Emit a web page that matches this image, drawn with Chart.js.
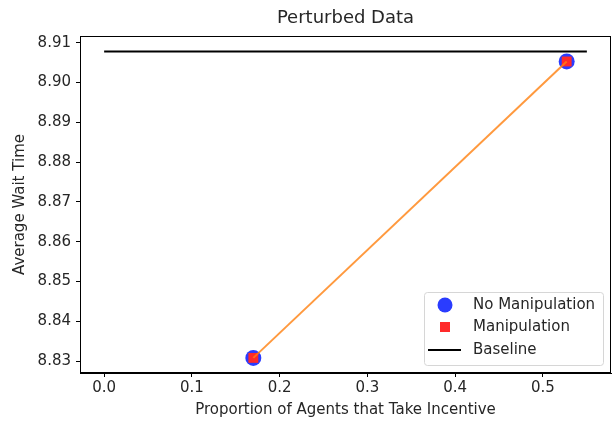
<!DOCTYPE html>
<html>
<head>
<meta charset="utf-8">
<script src="https://cdn.jsdelivr.net/npm/chart.js@4"></script>
<style>
  html, body { margin: 0; padding: 0; background: #fff; }
  #wrap { width: 613px; height: 424px; }
</style>
</head>
<body>
<div id="wrap"><canvas id="chart" width="613" height="424"></canvas></div>
<script>
// ─── DATA ────────────────────────────────────────────
const proportions = [0.17, 0.527];
const waitNoManip = [8.8308, 8.9053];
const waitManip = [8.8308, 8.9053];
const baselineX = [0, 0.55];
const baselineWait = 8.9078;
const xTicks = [0, 0.1, 0.2, 0.3, 0.4, 0.5];
const yTicks = [8.83, 8.84, 8.85, 8.86, 8.87, 8.88, 8.89, 8.90, 8.91];

const FONT = 'DejaVu Sans, sans-serif';
const TXT = '#262626';

const pts = (xs, ys) => xs.map((x, i) => ({ x, y: ys[i] }));

// frame, title over the plot, legend inside lower right
const framePlugin = {
  id: 'frame',
  afterDatasetsDraw(chart) {
    const { ctx, chartArea: a } = chart;
    ctx.save();
    ctx.strokeStyle = '#000';
    ctx.lineWidth = 1;
    ctx.strokeRect(Math.round(a.left) + 0.5, Math.round(a.top) + 0.5,
      Math.round(a.right - a.left) - 1, Math.round(a.bottom - a.top) - 1);

    ctx.fillStyle = TXT;
    ctx.font = '18px ' + FONT;
    ctx.textAlign = 'center';
    ctx.textBaseline = 'middle';
    ctx.fillText('Perturbed Data', (a.left + a.right) / 2, 18);

    // legend
    const bw = 179, bh = 73;
    const bx = a.right - 8 - bw, by = a.bottom - 8 - bh;
    ctx.fillStyle = 'rgba(255,255,255,0.8)';
    ctx.strokeStyle = '#d6d6d6';
    ctx.beginPath();
    ctx.roundRect(bx + 0.5, by + 0.5, bw, bh, 3);
    ctx.fill();
    ctx.stroke();

    const hx = bx + 21, tx = bx + 49;
    const rows = [by + 13, by + 35, by + 58];
    ctx.fillStyle = '#2a3cff';
    ctx.beginPath(); ctx.arc(hx, rows[0], 7.5, 0, Math.PI * 2); ctx.fill();
    ctx.fillStyle = '#ff2a2a';
    ctx.fillRect(hx - 5, rows[1] - 5, 10, 10);
    ctx.strokeStyle = '#000';
    ctx.lineWidth = 2;
    ctx.beginPath(); ctx.moveTo(hx - 17, rows[2]); ctx.lineTo(hx + 16, rows[2]); ctx.stroke();

    ctx.fillStyle = TXT;
    ctx.font = '15px ' + FONT;
    ctx.textAlign = 'left';
    ['No Manipulation', 'Manipulation', 'Baseline'].forEach((t, i) => ctx.fillText(t, tx, rows[i]));
    ctx.restore();
  }
};

new Chart(document.getElementById('chart'), {
  type: 'scatter',
  data: {
    datasets: [
      {
        label: 'trend',
        data: pts(proportions, waitManip),
        showLine: true,
        borderColor: 'rgba(255,127,14,0.8)',
        borderWidth: 2,
        pointRadius: 0,
        order: 0,
      },
      {
        label: 'Manipulation',
        data: pts(proportions, waitManip),
        pointStyle: 'rect',
        pointRadius: 7,
        backgroundColor: '#ff2a2a',
        borderWidth: 0,
        order: 1,
      },
      {
        label: 'No Manipulation',
        data: pts(proportions, waitNoManip),
        pointStyle: 'circle',
        pointRadius: 8,
        backgroundColor: '#2a3cff',
        borderWidth: 0,
        order: 2,
      },
      {
        label: 'Baseline',
        data: pts(baselineX, baselineX.map(() => baselineWait)),
        showLine: true,
        borderColor: '#000',
        borderWidth: 2,
        pointRadius: 0,
        order: 3,
      },
    ]
  },
  options: {
    responsive: false,
    animation: false,
    layout: { autoPadding: false, padding: { left: 0, right: 2, top: 36, bottom: 0 } },
    plugins: {
      legend: { display: false },
      tooltip: { enabled: false },
      title: { display: false },
    },
    scales: {
      x: {
        type: 'linear',
        min: -0.0275,
        max: 0.5775,
        afterFit: s => { s.height = 51; },
        afterBuildTicks: s => { s.ticks = xTicks.map(v => ({ value: v })); },
        ticks: {
          color: TXT,
          font: { family: FONT, size: 15 },
          padding: 2,
          callback: v => v.toFixed(1),
        },
        grid: { drawOnChartArea: false, drawTicks: true, tickLength: 4, color: '#000' },
        border: { display: true, color: '#000', width: 1 },
        title: {
          display: true,
          text: 'Proportion of Agents that Take Incentive',
          color: TXT,
          font: { family: FONT, size: 15 },
          padding: { top: 4, bottom: 5 },
        },
      },
      y: {
        type: 'linear',
        min: 8.827,
        max: 8.9117,
        afterFit: s => { s.width = 80; },
        afterBuildTicks: s => { s.ticks = yTicks.map(v => ({ value: v })); },
        ticks: {
          color: TXT,
          font: { family: FONT, size: 15 },
          padding: 5,
          callback: v => v.toFixed(2),
        },
        grid: { drawOnChartArea: false, drawTicks: true, tickLength: 4, color: '#000' },
        border: { display: true, color: '#000', width: 1 },
        title: {
          display: true,
          text: 'Average Wait Time',
          color: TXT,
          font: { family: FONT, size: 15 },
          padding: { top: 11.5, bottom: 4 },
        },
      },
    },
  },
  plugins: [framePlugin],
});
</script>
</body>
</html>
